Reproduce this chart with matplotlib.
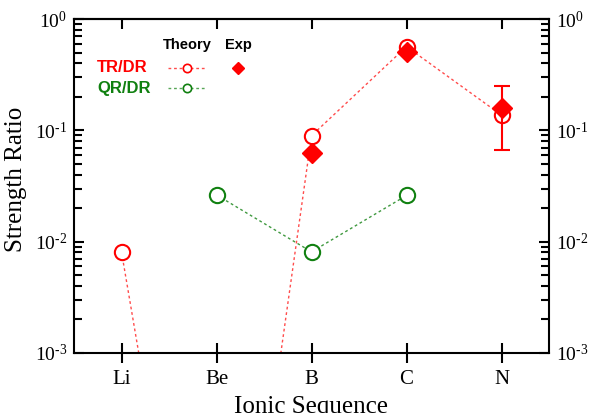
import matplotlib.pyplot as plt
import numpy as np
from matplotlib.ticker import LogLocator, NullFormatter, FuncFormatter

# ionic sequence and strength ratios
ions = ['Li', 'Be', 'B', 'C', 'N']
tr_theory = [0.0081, 8e-8, 0.0895, 0.565, 0.137]
qr_theory = [np.nan, 0.0263, 0.0081, 0.026, np.nan]
exp_ions = ['B', 'C', 'N']
tr_exp = [0.0622, 0.509, 0.158]
tr_exp_lo = [0.0622, 0.509, 0.0667]
tr_exp_hi = [0.0622, 0.509, 0.25]

red = '#ff0000'
green = '#108010'
serif = 'Liberation Serif'
sans = 'Liberation Sans'

plt.rcParams['font.family'] = serif
plt.rcParams['mathtext.fontset'] = 'custom'
plt.rcParams['mathtext.rm'] = serif
plt.rcParams['axes.linewidth'] = 1.5


def pow10(v, pos):
    e = int(round(np.log10(v)))
    if e < 0:
        return r'$\mathdefault{10^{\text{-}%d}}$' % -e
    return r'$\mathdefault{10^{%d}}$' % e


fig = plt.figure(figsize=(5.89, 4.13), dpi=100)
ax = fig.add_axes([74/589, 1 - 353/413, 475/589, 334/413])

x = np.arange(len(ions))
ax.plot(x, tr_theory, ls=(0, (2, 2)), lw=1, color=red, alpha=0.7, zorder=2)
ax.plot(x, tr_theory, ls='none', marker='o', ms=11, mfc='white', mec=red, mew=1.5, zorder=3)
ax.plot(x, qr_theory, ls=(0, (2, 2)), lw=1, color=green, alpha=0.8, zorder=2)
ax.plot(x, qr_theory, ls='none', marker='o', ms=11, mfc='white', mec=green, mew=1.5, zorder=3)

xe = np.array([ions.index(i) for i in exp_ions])
yerr = [np.array(tr_exp) - np.array(tr_exp_lo), np.array(tr_exp_hi) - np.array(tr_exp)]
ax.errorbar(xe, tr_exp, yerr=yerr, fmt='D', ms=10, color=red, mec=red,
            ecolor=red, elinewidth=1.5, capsize=6, capthick=1.5, zorder=4)

ax.set_yscale('log')
ax.set_ylim(1e-3, 1)
ax.set_xlim(-0.5, 4.5)
ax.set_xticks(x)
ax.set_xticklabels(ions, fontsize=15)
ax.yaxis.set_major_locator(LogLocator(base=10))
ax.yaxis.set_major_formatter(FuncFormatter(pow10))
ax.yaxis.set_minor_locator(LogLocator(base=10, subs=np.arange(2, 10)))
ax.yaxis.set_minor_formatter(NullFormatter())
ax.tick_params(axis='y', which='both', direction='in', right=True, labelright=True,
               width=1.5, labelsize=14, pad=5)
ax.tick_params(axis='y', which='major', length=7)
ax.tick_params(axis='y', which='minor', length=6)
# bottom ticks cross the spine, top ones point inward
ax.tick_params(axis='x', direction='inout', length=14, width=1.5, pad=5)
top = ax.secondary_xaxis('top')
top.set_xticks(x)
top.tick_params(direction='in', length=7, width=1.5, labeltop=False)

ax.set_ylabel('Strength Ratio', fontsize=18)
ax.yaxis.set_label_coords(-0.098, 0.52)
ax.set_xlabel('Ionic Sequence', fontsize=18)
ax.xaxis.set_label_coords(0.5, -0.128)

# hand-made legend
def fx(px):
    return ax.transData.inverted().transform(ax.transAxes.transform(((px - 74) / 475, 0)))[0]

def fy(py):
    return 10 ** (-3 + (353 - py) / (334 / 3))

ax.text(fx(187), fy(45), 'Theory', fontfamily=sans, fontweight='bold', fontsize=10.5,
        ha='center', va='center')
ax.text(fx(238), fy(45), 'Exp', fontfamily=sans, fontweight='bold', fontsize=10.5,
        ha='center', va='center')
ax.text(fx(97), fy(68), 'TR/DR', fontfamily=sans, fontweight='bold', fontsize=12,
        color=red, ha='left', va='center')
ax.text(fx(97), fy(88), 'QR/DR', fontfamily=sans, fontweight='bold', fontsize=12,
        color=green, ha='left', va='center')
for py, c in [(68, red), (88, green)]:
    ax.plot([fx(168), fx(205)], [fy(py)] * 2, ls=(0, (2, 2)), lw=1, color=c, alpha=0.7)
    ax.plot([fx(187)], [fy(py)], ls='none', marker='o', ms=6, mfc='white', mec=c, mew=1.2)
ax.plot([fx(238)], [fy(68)], ls='none', marker='D', ms=6, color=red)

fig.savefig('out.png', dpi=100)
